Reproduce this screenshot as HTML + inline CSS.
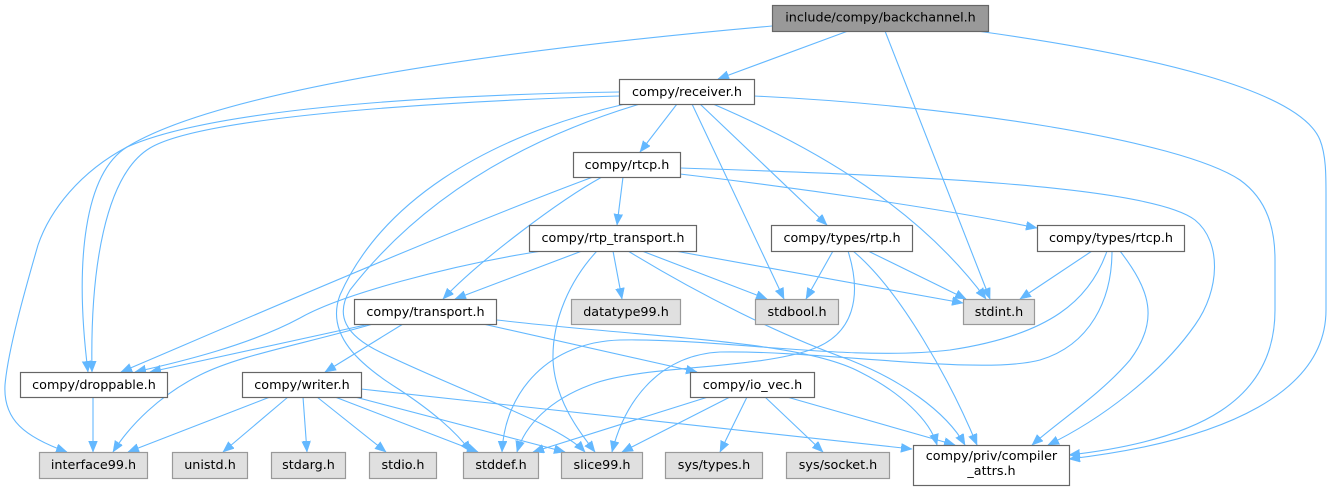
<!DOCTYPE html>
<html>
<head>
<meta charset="utf-8">
<style>
  html,body{margin:0;padding:0;background:#fff;}
  svg{display:block;}
  text{font-family:"DejaVu Sans","Liberation Sans",sans-serif;font-size:12.75px;fill:#000;}
  .e{fill:none;stroke:#63b8ff;stroke-width:1.1;marker-end:url(#ah);}
  .nw{fill:#fff;stroke:#666;stroke-width:1.2;}
  .ng{fill:#e0e0e0;stroke:#999;stroke-width:1.2;}
  .nr{fill:#999;stroke:#666;stroke-width:1.2;}
</style>
</head>
<body>
<svg width="1331" height="491" viewBox="0 0 1331 491" xmlns="http://www.w3.org/2000/svg">
<defs>
  <marker id="ah" markerUnits="userSpaceOnUse" markerWidth="12" markerHeight="10" refX="11" refY="4.5" orient="auto">
    <path d="M0,0 L11,4.5 L0,9 z" fill="#63b8ff" stroke="#63b8ff" stroke-width="0.5"/>
  </marker>
</defs>

<!-- edges -->
<path class="e" d="M848,31 L718,79"/>
<path class="e" d="M772,26 C500,50 220,90 127,147 C85,173 74,260 88,372"/>
<path class="e" d="M885,31 L990,299"/>
<path class="e" d="M977,31 C1150,55 1300,90 1320,140 C1326,155 1326,175 1326,195 L1326,310 C1326,390 1230,440 1069,459"/>

<path class="e" d="M677,104 L640,152"/>
<path class="e" d="M619,92 C420,95 210,110 127,147 C80,172 50,210 38,245 C25,290 8,350 5,385 C3,420 25,437 67,452"/>
<path class="e" d="M619,96 C420,102 200,118 150,148 C105,175 90,270 92,372"/>
<path class="e" d="M625,104 C480,138 380,205 340,295 C325,335 360,365 400,390 C430,410 455,430 471,452"/>
<path class="e" d="M640,104 C520,140 420,200 350,290 C335,315 345,335 380,352 C470,395 560,425 585,452"/>
<path class="e" d="M692,104 L784,299"/>
<path class="e" d="M700,104 L827,225"/>
<path class="e" d="M713,104 C820,150 920,210 986,299"/>
<path class="e" d="M754,96 C950,105 1180,140 1240,180 C1268,200 1275,230 1275,260 L1275,310 C1275,400 1200,440 1069,455"/>

<path class="e" d="M623,177 L617,225"/>
<path class="e" d="M602,177 C560,200 480,260 443,299"/>
<path class="e" d="M593,177 C450,230 220,330 121,372"/>
<path class="e" d="M680,174 C800,188 950,210 1037,228"/>
<path class="e" d="M680,168 C900,175 1150,185 1195,220 C1222,242 1220,290 1195,325 C1160,375 1100,420 1048,445"/>

<path class="e" d="M582,251 L455,299"/>
<path class="e" d="M542,251 C450,265 340,295 300,318 C250,345 180,362 135,372"/>
<path class="e" d="M613,251 L622,299"/>
<path class="e" d="M642,251 L767,299"/>
<path class="e" d="M675,251 L963,303"/>
<path class="e" d="M597,251 C570,280 552,320 553,360 C555,400 578,430 595,452"/>
<path class="e" d="M628,251 C700,295 780,335 850,360 C900,380 945,410 965,445"/>

<path class="e" d="M833,251 L806,299"/>
<path class="e" d="M868,251 L966,299"/>
<path class="e" d="M853,251 C900,290 950,380 977,445"/>
<path class="e" d="M848,251 C862,295 855,335 810,350 C750,370 640,365 590,385 C550,400 525,425 517,452"/>

<path class="e" d="M1092,251 L1020,299"/>
<path class="e" d="M1107,251 C1090,300 1050,335 950,350 C850,362 720,338 620,340 C550,342 505,390 502,452"/>
<path class="e" d="M1112,251 C1112,300 1090,345 1040,360 C980,376 820,350 720,352 C660,355 625,400 612,452"/>
<path class="e" d="M1120,251 C1150,290 1160,320 1130,360 C1100,395 1060,420 1032,445"/>

<path class="e" d="M370,324 L150,372"/>
<path class="e" d="M373,324 C300,345 240,355 200,375 C160,395 130,425 113,452"/>
<path class="e" d="M403,324 L325,372"/>
<path class="e" d="M483,324 L697,372"/>
<path class="e" d="M497,320 C650,338 800,340 860,372 C900,392 930,420 937,445"/>

<path class="e" d="M270,397 L128,452"/>
<path class="e" d="M288,397 L223,452"/>
<path class="e" d="M303,397 L307,452"/>
<path class="e" d="M317,397 L386,452"/>
<path class="e" d="M335,397 L478,452"/>
<path class="e" d="M355,397 L565,452"/>
<path class="e" d="M361,389 L912,449"/>

<path class="e" d="M708,397 L533,452"/>
<path class="e" d="M730,397 L622,452"/>
<path class="e" d="M747,397 L720,452"/>
<path class="e" d="M765,397 L823,452"/>
<path class="e" d="M787,397 L955,445"/>

<path class="e" d="M93,397 L93,452"/>

<!-- nodes -->
<rect class="nr" x="772.5" y="5.5" width="216" height="26"/>
<text x="880.5" y="21.5" text-anchor="middle">include/compy/backchannel.h</text>

<rect class="nw" x="619.5" y="79.5" width="135" height="25"/>
<text x="687" y="95.8" text-anchor="middle">compy/receiver.h</text>

<rect class="nw" x="573.5" y="152.5" width="107" height="25"/>
<text x="627" y="168.8" text-anchor="middle">compy/rtcp.h</text>

<rect class="nw" x="529.5" y="225.5" width="167" height="26"/>
<text x="613" y="242" text-anchor="middle">compy/rtp_transport.h</text>

<rect class="nw" x="771.5" y="225.5" width="141" height="26"/>
<text x="842" y="242" text-anchor="middle">compy/types/rtp.h</text>

<rect class="nw" x="1037.5" y="225.5" width="147" height="26"/>
<text x="1111" y="242" text-anchor="middle">compy/types/rtcp.h</text>

<rect class="nw" x="354.5" y="299.5" width="142" height="25"/>
<text x="425.5" y="315.8" text-anchor="middle">compy/transport.h</text>

<rect class="ng" x="571.5" y="299.5" width="109" height="25"/>
<text x="626" y="315.8" text-anchor="middle">datatype99.h</text>

<rect class="ng" x="755.5" y="299.5" width="83" height="25"/>
<text x="797" y="315.8" text-anchor="middle">stdbool.h</text>

<rect class="ng" x="963.5" y="299.5" width="71" height="25"/>
<text x="999" y="315.8" text-anchor="middle">stdint.h</text>

<rect class="nw" x="20.5" y="372.5" width="147" height="25"/>
<text x="94" y="388.8" text-anchor="middle">compy/droppable.h</text>

<rect class="nw" x="242.5" y="372.5" width="119" height="25"/>
<text x="302" y="388.8" text-anchor="middle">compy/writer.h</text>

<rect class="nw" x="690.5" y="372.5" width="124" height="25"/>
<text x="752.5" y="388.8" text-anchor="middle">compy/io_vec.h</text>

<rect class="ng" x="39.5" y="452.5" width="108" height="26"/>
<text x="93.5" y="469" text-anchor="middle">interface99.h</text>

<rect class="ng" x="172.5" y="452.5" width="75" height="26"/>
<text x="210" y="469" text-anchor="middle">unistd.h</text>

<rect class="ng" x="271.5" y="452.5" width="74" height="26"/>
<text x="308.5" y="469" text-anchor="middle">stdarg.h</text>

<rect class="ng" x="369.5" y="452.5" width="67" height="26"/>
<text x="403" y="469" text-anchor="middle">stdio.h</text>

<rect class="ng" x="463.5" y="452.5" width="75" height="26"/>
<text x="501" y="469" text-anchor="middle">stddef.h</text>

<rect class="ng" x="561.5" y="452.5" width="81" height="26"/>
<text x="602" y="469" text-anchor="middle">slice99.h</text>

<rect class="ng" x="665.5" y="452.5" width="97" height="26"/>
<text x="714" y="469" text-anchor="middle">sys/types.h</text>

<rect class="ng" x="786.5" y="452.5" width="103" height="26"/>
<text x="838" y="469" text-anchor="middle">sys/socket.h</text>

<rect class="nw" x="913.5" y="445.5" width="156" height="40"/>
<text x="991.5" y="460" text-anchor="middle">compy/priv/compiler</text>
<text x="991.5" y="475" text-anchor="middle">_attrs.h</text>
</svg>
</body>
</html>
